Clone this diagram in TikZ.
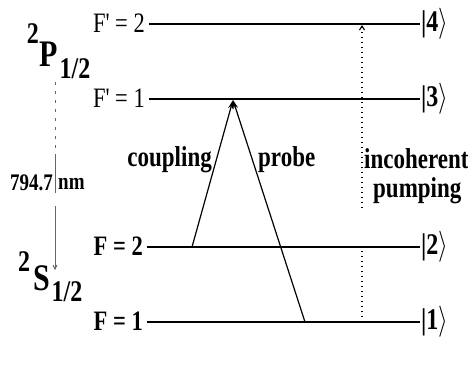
\documentclass[tikz,border=0pt]{standalone}
\usepackage{fontspec}
\setmainfont{Liberation Serif}
\usetikzlibrary{arrows.meta}
\newcommand\tallt[1]{\scalebox{1}[1.25]{#1}}
\begin{document}
\begin{tikzpicture}[x=1pt,y=-1pt,
  level/.style={line width=1.5pt},
  lbl/.style={inner sep=0pt,font=\fontsize{22.5}{25}\selectfont},
  ket/.style={inner sep=0pt,anchor=west,font=\fontsize{24}{26}\selectfont\bfseries},
  beam/.style={line width=1.2pt,-{Stealth[length=9pt,width=5pt]}},
  pump/.style={line width=1.1pt,dash pattern=on 1pt off 4pt},
  txt/.style={inner sep=0pt,font=\fontsize{23}{25}\selectfont\bfseries}]
\useasboundingbox (0,0) rectangle (468,365);
% levels
\coordinate (a4) at (149,24);  \coordinate (b4) at (420,24);
\coordinate (a3) at (149,99);  \coordinate (b3) at (420,99);
\coordinate (a2) at (147,247); \coordinate (b2) at (420,247);
\coordinate (a1) at (147,322); \coordinate (b1) at (420,322);
\draw[level] (a4) -- (b4);
\draw[level] (a3) -- (b3);
\draw[level] (a2) -- (b2);
\draw[level] (a1) -- (b1);
% left labels
\node[lbl,anchor=east] (l4) at (145,23) {\tallt{F\textquotesingle\ = 2}};
\node[lbl,anchor=east] (l3) at (145,98) {\tallt{F\textquotesingle\ = 1}};
\node[lbl,anchor=east,font=\fontsize{22.5}{25}\selectfont\bfseries] (l2) at (143,246) {\tallt{F = 2}};
\node[lbl,anchor=east,font=\fontsize{22.5}{25}\selectfont\bfseries] (l1) at (143,321) {\tallt{F = 1}};
% kets
\node[ket] (k4) at (421,24) {\tallt{|4$\rangle$}};
\node[ket] (k3) at (421,99) {\tallt{|3$\rangle$}};
\node[ket] (k2) at (421,247) {\tallt{|2$\rangle$}};
\node[ket] (k1) at (421,322) {\tallt{|1$\rangle$}};
% term symbols
\node[txt,font=\fontsize{24}{26}\selectfont\bfseries] (p2) at (33,34) {\tallt{2}};
\node[txt,font=\fontsize{30}{32}\selectfont\bfseries] (pP) at (49,54) {\tallt{P}};
\node[txt,font=\fontsize{24}{26}\selectfont\bfseries] (p12) at (75,69) {\tallt{1/2}};
\node[txt,font=\fontsize{24}{26}\selectfont\bfseries] (s2) at (24,262) {\tallt{2}};
\node[txt,font=\fontsize{30}{32}\selectfont\bfseries] (sS) at (42,278) {\tallt{S}};
\node[txt,font=\fontsize{24}{26}\selectfont\bfseries] (s12) at (67,292) {\tallt{1/2}};
% wavelength
\coordinate (w0) at (55,82);
\coordinate (w1) at (55,156);
\coordinate (w2) at (55,193);
\coordinate (w3) at (55,206);
\coordinate (w4) at (55,270);
\draw[gray!80!black,line width=0.9pt,dash pattern=on 3pt off 6pt] (w0) -- (w1);
\draw[gray!80!black,line width=0.9pt] (w1) -- (w2);
\draw[gray!80!black,line width=0.9pt,-{Straight Barb[length=4pt,width=4pt]}] (w3) -- (w4);
\node[txt,anchor=east,font=\fontsize{19}{22}\selectfont\bfseries] (wl) at (53,183) {\tallt{794.7}};
\node[txt,anchor=west,font=\fontsize{19}{22}\selectfont\bfseries] (nm) at (58,184) {\tallt{nm}};
% beams
\coordinate (top) at (233,100);
\coordinate (cs) at (192,247);
\coordinate (ps) at (305,322);
\draw[beam] (cs) -- (top);
\draw[beam] (ps) -- (top);
\node[txt,anchor=east] (cl) at (212,160) {\tallt{coupling}};
\node[txt,anchor=west] (pl) at (258,160) {\tallt{probe}};
% pumping
\coordinate (q0) at (362,322);
\coordinate (q1) at (362,250);
\coordinate (q2) at (362,208);
\coordinate (q3) at (362,25);
\draw[pump] (q0) -- (q1);
\draw[pump,-{Straight Barb[length=4pt,width=5pt]}] (q2) -- (q3);
\node[txt,anchor=west] (inc) at (364,159) {\tallt{incoherent}};
\node[txt,anchor=west] (pmp) at (373,191) {\tallt{pumping}};
\end{tikzpicture}
\end{document}
